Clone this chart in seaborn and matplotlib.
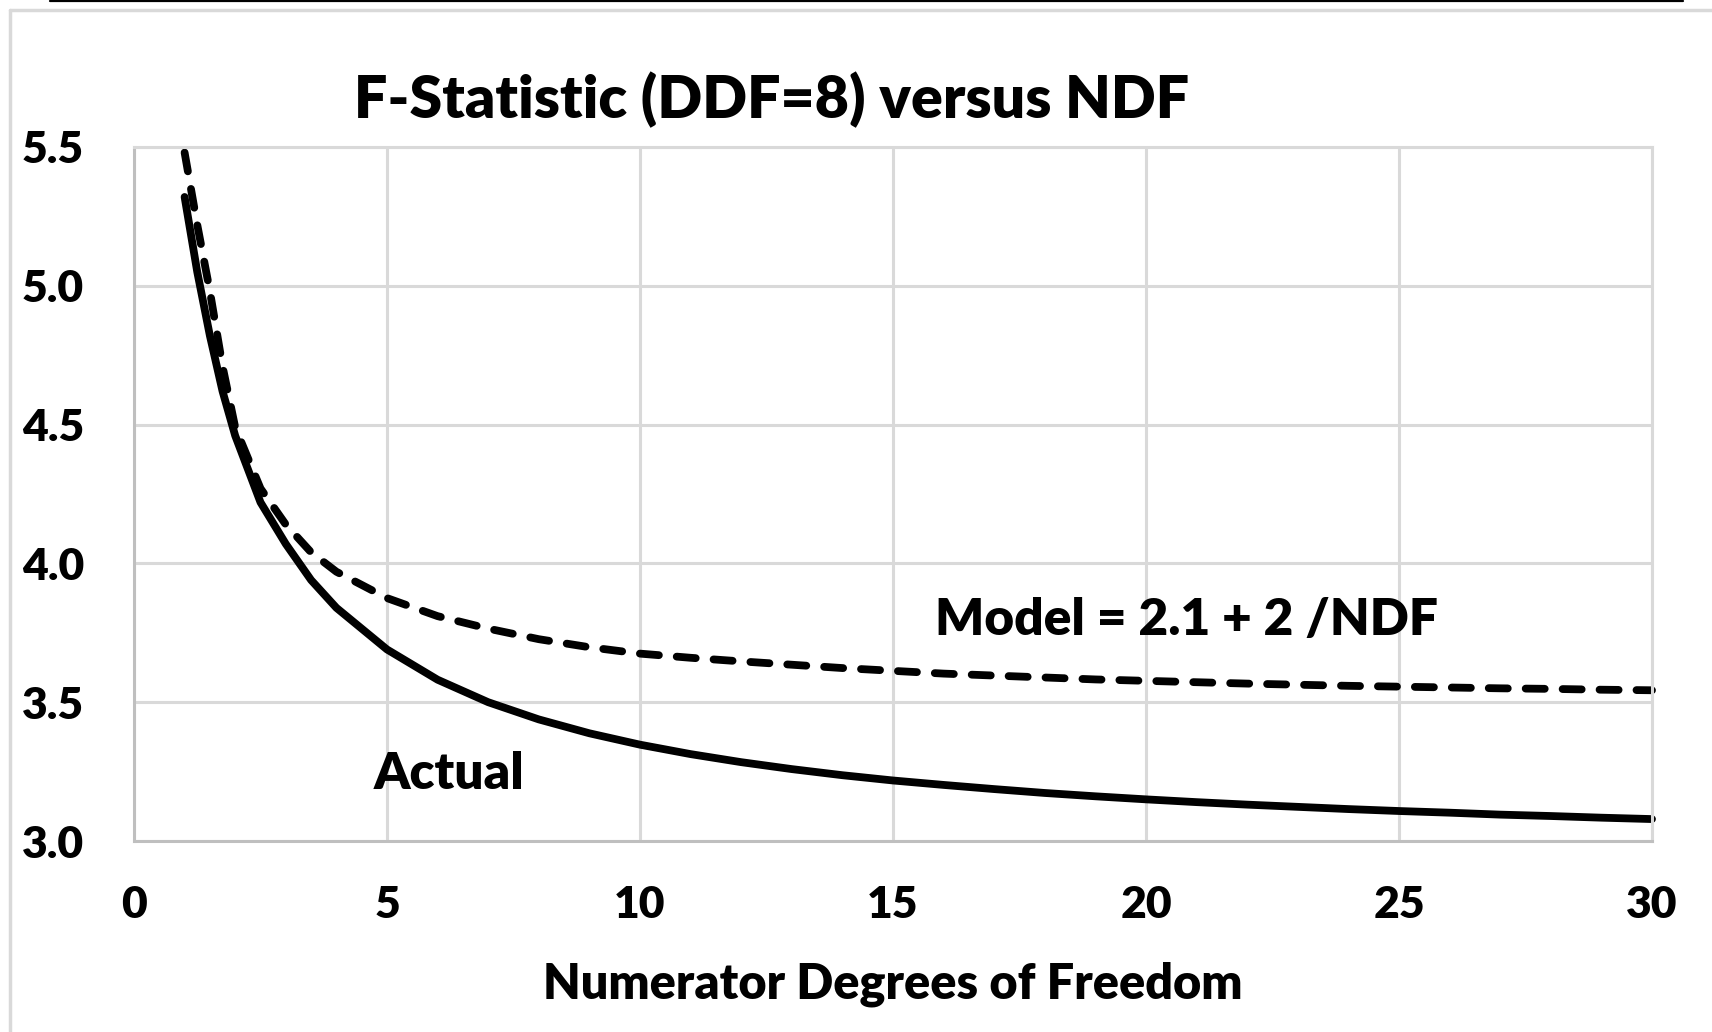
import matplotlib
matplotlib.use("Agg")
import matplotlib.pyplot as plt
import seaborn as sns
import pandas as pd
from matplotlib.lines import Line2D

# values
ndf = [1, 1.25, 1.5, 1.75, 2, 2.5, 3, 3.5, 4, 5, 6, 7, 8, 9, 10, 11, 12, 13, 14, 15,
       16, 17, 18, 19, 20, 21, 22, 23, 24, 25, 26, 27, 28, 29, 30]
f_actual = [5.32, 5.05, 4.82, 4.62, 4.46, 4.22, 4.07, 3.94, 3.84, 3.69, 3.581, 3.500,
            3.438, 3.388, 3.347, 3.313, 3.284, 3.259, 3.237, 3.218, 3.202, 3.187, 3.173,
            3.161, 3.150, 3.140, 3.131, 3.123, 3.115, 3.108, 3.102, 3.095, 3.090, 3.084, 3.079]
f_model = [5.48, 5.22, 4.98, 4.71, 4.49, 4.27, 4.14, 4.04, 3.97, 3.875, 3.81, 3.765,
           3.727, 3.698, 3.675, 3.66, 3.647, 3.635, 3.623, 3.613, 3.603, 3.596, 3.589,
           3.582, 3.577, 3.572, 3.567, 3.563, 3.559, 3.556, 3.553, 3.550, 3.548, 3.545, 3.543]
x_ticks = [0, 5, 10, 15, 20, 25, 30]
y_ticks = [3.0, 3.5, 4.0, 4.5, 5.0, 5.5]

df = pd.DataFrame({"NDF": ndf, "Actual": f_actual, "Model": f_model})

sns.set_theme(style="white")
plt.rcParams["font.family"] = ["Lato", "DejaVu Sans"]
plt.rcParams["text.color"] = "black"
plt.rcParams["axes.labelcolor"] = "black"
WEIGHT = "heavy"

W, H = 1712, 1032
fig = plt.figure(figsize=(W / 100, H / 100), dpi=100)
ax = fig.add_axes([134 / W, 1 - 841 / H, (1652 - 134) / W, (841 - 147) / H])

sns.lineplot(data=df, x="NDF", y="Actual", ax=ax, color="black", linewidth=5.6,
             solid_capstyle="round", clip_on=False)
sns.lineplot(data=df, x="NDF", y="Model", ax=ax, color="black", linewidth=5.6, clip_on=False)
model_line = ax.lines[-1]
model_line.set_dashes((2.45, 2.3))
model_line.set_dash_capstyle("round")

ax.set_xlim(0, 30)
ax.set_ylim(3.0, 5.5)
ax.set_xticks(x_ticks)
ax.set_yticks(y_ticks)
ax.set_yticklabels([f"{v:.1f}" for v in y_ticks])
ax.tick_params(axis="both", length=0, labelsize=32, colors="black")
ax.tick_params(axis="y", pad=36)
ax.tick_params(axis="x", pad=32)
for lab in ax.get_xticklabels() + ax.get_yticklabels():
    lab.set_fontweight(WEIGHT)

ax.grid(True, color="#d9d9d9", linewidth=2.2)
ax.set_axisbelow(True)
for side in ["top", "right"]:
    ax.spines[side].set_color("#d9d9d9")
    ax.spines[side].set_linewidth(2.2)
for side in ["left", "bottom"]:
    ax.spines[side].set_color("#bfbfbf")
    ax.spines[side].set_linewidth(2.2)

ax.set_xlabel("Numerator Degrees of Freedom", fontsize=35, fontweight=WEIGHT, labelpad=26)
ax.set_ylabel("")

ax.text(20.8, 3.796, "Model = 2.1 + 2 /NDF", fontsize=37, fontweight=WEIGHT,
        ha="center", va="center")
ax.text(6.23, 3.24, "Actual", fontsize=37, fontweight=WEIGHT, ha="center", va="center")

fig.text(772 / W, 1 - 100 / H, "F-Statistic (DDF=8) versus NDF", fontsize=42.5,
         fontweight=WEIGHT, ha="center", va="center")

# chart frame and top rule
fig.add_artist(Line2D([10 / W, 10 / W], [0, 1 - 10 / H], color="#d9d9d9", linewidth=2.5,
                      transform=fig.transFigure))
fig.add_artist(Line2D([10 / W, 1], [1 - 10 / H, 1 - 10 / H], color="#d9d9d9", linewidth=2.5,
                      transform=fig.transFigure))
fig.add_artist(Line2D([50 / W, 1683 / W], [1 - 1 / H, 1 - 1 / H], color="black", linewidth=1.6,
                      transform=fig.transFigure))

fig.savefig("out.png", dpi=100)
